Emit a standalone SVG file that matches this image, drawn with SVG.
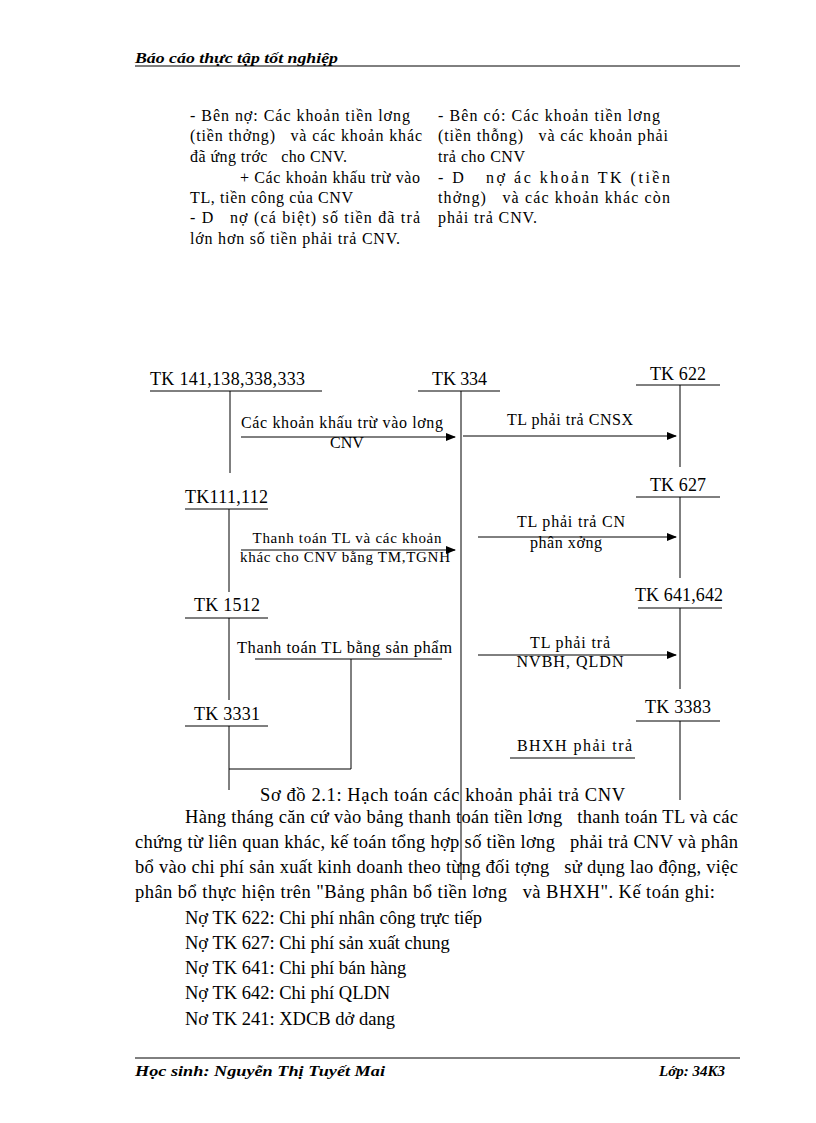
<svg xmlns="http://www.w3.org/2000/svg" width="816" height="1123" viewBox="0 0 816 1123">
<style>
.t{font-family:"Liberation Serif","Times New Roman",serif;fill:#000;white-space:pre}
.s{font-size:16px}
.k{font-size:18px}
.e{font-size:16px}
.p{font-size:18.5px}
.h{font-family:"Liberation Serif",serif;font-style:italic;font-weight:bold;font-size:15px}
.ln{stroke:#000;stroke-width:1;fill:none}
</style>
<defs>
<marker id="ar" markerWidth="10" markerHeight="8" refX="9" refY="4" orient="auto" markerUnits="userSpaceOnUse">
<path d="M0,0 L10,4 L0,8 Z" fill="#000"/>
</marker>
</defs>
<rect width="816" height="1123" fill="#fff"/>
<g id="header">
<text class="h" x="135" y="63" textLength="203" lengthAdjust="spacingAndGlyphs">Báo cáo thực tập tốt nghiệp</text>
<line class="ln" x1="135" y1="66" x2="740" y2="66"/>
</g>
<g id="notes" class="t s">
<text x="190" y="121" textLength="220">- Bên nợ: Các khoản tiền lơng</text>
<text x="190" y="141" textLength="232">(tiền thởng)&#160;&#160;&#160;và các khoản khác</text>
<text x="190" y="162" textLength="157">đã ứng trớc&#160;&#160;&#160;cho CNV.</text>
<text x="240" y="183" textLength="180">+ Các khoản khấu trừ vào</text>
<text x="190" y="203" textLength="163">TL, tiền công của CNV</text>
<text x="190" y="223" textLength="230">- D&#160;&#160;&#160;nợ (cá biệt) số tiền đã trả</text>
<text x="190" y="244" textLength="210">lớn hơn số tiền phải trả CNV.</text>
<text x="438" y="121" textLength="222">- Bên có: Các khoản tiền lơng</text>
<text x="438" y="141" textLength="230">(tiền thỗng)&#160;&#160;&#160;và các khoản phải</text>
<text x="438" y="162" textLength="87">trả cho CNV</text>
<text x="438" y="183" textLength="232">- D&#160;&#160;&#160;nợ ác khoản TK (tiền</text>
<text x="438" y="203" textLength="232">thởng)&#160;&#160;&#160;và các khoản khác còn</text>
<text x="438" y="223" textLength="99">phải trả CNV.</text>
</g>
<g id="tk141">
<text class="t k" x="150" y="385" textLength="155">TK 141,138,338,333</text>
<line class="ln" x1="150" y1="391" x2="322" y2="391"/>
<line class="ln" x1="230" y1="391" x2="230" y2="473"/>
</g>
<g id="tk334">
<text class="t k" x="432" y="385" textLength="55">TK 334</text>
<line class="ln" x1="418" y1="391" x2="500" y2="391"/>
<line class="ln" x1="461" y1="391" x2="461" y2="880"/>
</g>
<g id="tk622">
<text class="t k" x="650" y="380" textLength="56">TK 622</text>
<line class="ln" x1="636" y1="385" x2="720" y2="385"/>
<line class="ln" x1="680" y1="385" x2="680" y2="467"/>
</g>
<g id="tk111">
<text class="t k" x="185" y="503" textLength="83">TK111,112</text>
<line class="ln" x1="185" y1="509" x2="268" y2="509"/>
<line class="ln" x1="229" y1="509" x2="229" y2="592"/>
</g>
<g id="tk627">
<text class="t k" x="650" y="491" textLength="56">TK 627</text>
<line class="ln" x1="636" y1="497" x2="720" y2="497"/>
<line class="ln" x1="680" y1="497" x2="680" y2="578"/>
</g>
<g id="tk1512">
<text class="t k" x="194" y="611" textLength="66">TK 1512</text>
<line class="ln" x1="185" y1="618" x2="268" y2="618"/>
<line class="ln" x1="229" y1="618" x2="229" y2="700"/>
</g>
<g id="tk641">
<text class="t k" x="635" y="601" textLength="88">TK 641,642</text>
<line class="ln" x1="638" y1="608" x2="722" y2="608"/>
<line class="ln" x1="680" y1="608" x2="680" y2="689"/>
</g>
<g id="tk3331">
<text class="t k" x="194" y="720" textLength="66">TK 3331</text>
<line class="ln" x1="185" y1="726" x2="268" y2="726"/>
<line class="ln" x1="229" y1="726" x2="229" y2="790"/>
</g>
<g id="tk3383">
<text class="t k" x="645" y="713" textLength="66">TK 3383</text>
<line class="ln" x1="636" y1="721" x2="720" y2="721"/>
<line class="ln" x1="680" y1="721" x2="680" y2="800"/>
</g>
<g id="connectors">
<line class="ln" x1="241" y1="437" x2="455" y2="437" marker-end="url(#ar)"/>
<line class="ln" x1="463" y1="436" x2="676" y2="436" marker-end="url(#ar)"/>
<line class="ln" x1="241" y1="550" x2="455" y2="550" marker-end="url(#ar)"/>
<line class="ln" x1="478" y1="537" x2="676" y2="537" marker-end="url(#ar)"/>
<line class="ln" x1="478" y1="655" x2="676" y2="655" marker-end="url(#ar)"/>
<line class="ln" x1="255" y1="659" x2="442" y2="659"/>
<polyline class="ln" points="351,659 351,769 229,769"/>
<line class="ln" x1="510" y1="758" x2="635" y2="758"/>
</g>
<g id="labels" class="t e">
<text x="241" y="428" textLength="202">Các khoản khấu trừ vào lơng</text>
<text x="347" y="448" text-anchor="middle">CNV</text>
<text x="570" y="425" text-anchor="middle" textLength="126">TL phải trả CNSX</text>
<text x="347" y="543" text-anchor="middle" textLength="189" font-size="15">Thanh toán TL và các khoản</text>
<text x="345" y="562" text-anchor="middle" textLength="210" font-size="15">khác cho CNV bằng TM,TGNH</text>
<text x="571" y="527" text-anchor="middle" textLength="108">TL phải trả CN</text>
<text x="566" y="548" text-anchor="middle" textLength="72">phân xởng</text>
<text x="237" y="653" textLength="215" font-size="16.5">Thanh toán TL bằng sản phẩm</text>
<text x="570" y="648" text-anchor="middle" textLength="80">TL phải trả</text>
<text x="570" y="667" text-anchor="middle" textLength="107">NVBH, QLDN</text>
<text x="517" y="751" textLength="115">BHXH phải trả</text>
</g>
<g id="body" class="t p">
<text x="260" y="801" textLength="365">Sơ đồ 2.1: Hạch toán các khoản phải trả CNV</text>
<text x="185" y="823" textLength="553">Hàng tháng căn cứ vào bảng thanh toán tiền lơng&#160;&#160;&#160;thanh toán TL và các</text>
<text x="135" y="848" textLength="603">chứng từ liên quan khác, kế toán tổng hợp số tiền lơng&#160;&#160;&#160;phải trả CNV và phân</text>
<text x="135" y="873" textLength="603">bổ vào chi phí sản xuất kinh doanh theo từng đối tợng&#160;&#160;&#160;sử dụng lao động, việc</text>
<text x="135" y="898" textLength="580">phân bổ thực hiện trên "Bảng phân bổ tiền lơng&#160;&#160;&#160;và BHXH". Kế toán ghi:</text>
<text x="185" y="924">Nợ TK 622: Chi phí nhân công trực tiếp</text>
<text x="185" y="949">Nợ TK 627: Chi phí sản xuất chung</text>
<text x="185" y="974">Nợ TK 641: Chi phí bán hàng</text>
<text x="185" y="999">Nợ TK 642: Chi phí QLDN</text>
<text x="185" y="1025">Nơ TK 241: XDCB dở dang</text>
</g>
<g id="footer">
<line class="ln" x1="135" y1="1058" x2="740" y2="1058"/>
<text class="h" x="135" y="1076" textLength="250" lengthAdjust="spacingAndGlyphs">Học sinh: Nguyễn Thị Tuyết Mai</text>
<text class="h" x="725" y="1076" text-anchor="end">Lớp: 34K3</text>
</g>
</svg>
